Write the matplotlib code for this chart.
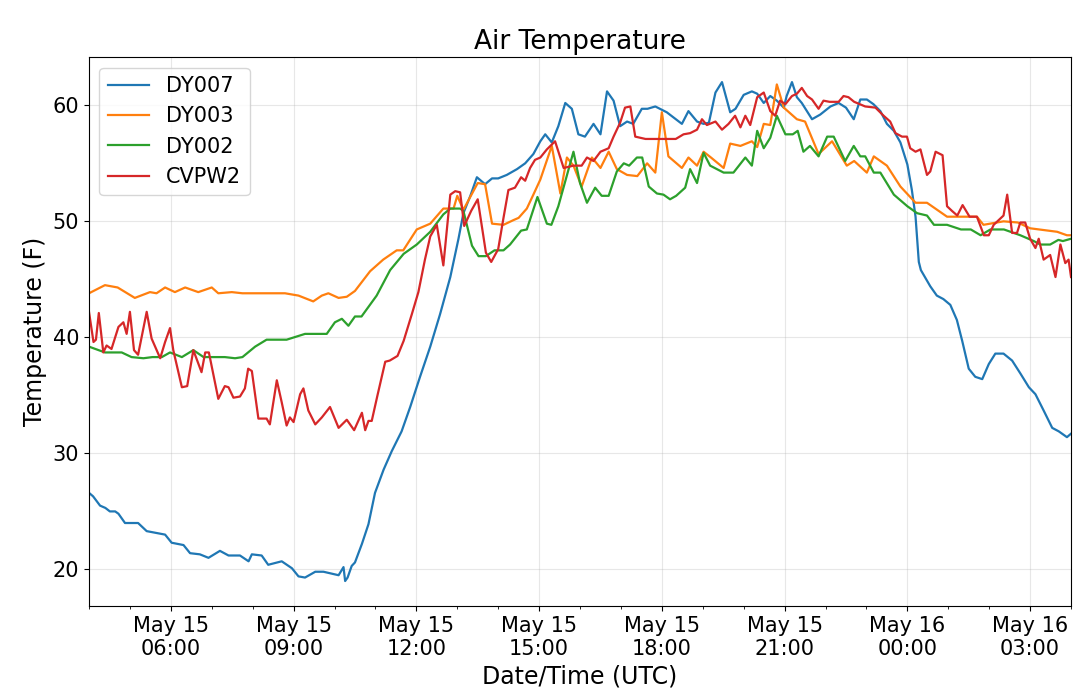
import numpy as np
import pandas as pd
import matplotlib
matplotlib.use('Agg')
import matplotlib.pyplot as plt
import matplotlib.dates as mdates

start = pd.Timestamp('2019-05-15 04:00')

# hours after 04:00 UTC and temperatures (F)
dy007_h = [0.0, 0.1, 0.27, 0.4, 0.51, 0.64, 0.72, 0.88, 1.2, 1.41, 1.86, 2.02, 2.31, 2.47, 2.71, 2.92,
           3.2, 3.41, 3.69, 3.9, 3.98, 4.22, 4.38, 4.71, 4.96, 5.12, 5.28, 5.53, 5.73, 6.1, 6.22, 6.26,
           6.32, 6.42, 6.5, 6.67, 6.83, 6.99, 7.2, 7.4, 7.64, 7.85, 8.09, 8.34, 8.58, 8.83, 9.03, 9.15,
           9.32, 9.48, 9.68, 9.85, 10.0, 10.21, 10.46, 10.66, 10.86, 11.03, 11.15, 11.31, 11.47, 11.64,
           11.8, 11.96, 12.12, 12.33, 12.5, 12.66, 12.82, 12.98, 13.15, 13.3, 13.51, 13.65, 13.84, 14.12,
           14.49, 14.65, 14.86, 15.02, 15.15, 15.31, 15.47, 15.67, 15.8, 16.0, 16.2, 16.33, 16.49, 16.65,
           16.81, 16.98, 17.05, 17.18, 17.3, 17.42, 17.67, 17.87, 18.12, 18.32, 18.5, 18.69, 18.85, 19.01,
           19.17, 19.34, 19.5, 19.67, 19.83, 20.0, 20.11, 20.2, 20.28, 20.33, 20.56, 20.72, 20.88, 21.05,
           21.21, 21.34, 21.5, 21.66, 21.83, 21.99, 22.15, 22.35, 22.56, 22.76, 22.97, 23.13, 23.33, 23.54,
           23.7, 23.9, 24.0]
dy007_t = [26.6, 26.3, 25.5, 25.3, 25.0, 25.0, 24.8, 24.0, 24.0, 23.3, 23.0, 22.3, 22.1, 21.4, 21.3, 21.0,
           21.6, 21.2, 21.2, 20.7, 21.3, 21.2, 20.4, 20.7, 20.1, 19.4, 19.3, 19.8, 19.8, 19.5, 20.2, 19.0,
           19.3, 20.3, 20.6, 22.2, 23.9, 26.6, 28.6, 30.2, 31.9, 34.0, 36.6, 39.2, 42.0, 45.2, 48.5, 50.7,
           52.2, 53.8, 53.2, 53.7, 53.7, 54.0, 54.5, 55.0, 55.8, 56.9, 57.5, 56.8, 58.2, 60.2,
           59.7, 57.5, 57.3, 58.4, 57.5, 61.2, 60.4, 58.2, 58.6, 58.4, 59.7, 59.7, 59.9, 59.4,
           58.4, 59.5, 58.6, 58.4, 58.5, 61.1, 62.0, 59.4, 59.7, 60.9, 61.2, 61.0, 60.2, 60.8,
           60.4, 59.8, 60.8, 62.0, 60.7, 60.2, 58.8, 59.2, 59.9, 60.2, 59.8, 58.8, 60.5, 60.5,
           60.1, 59.5, 58.4, 57.8, 56.8, 54.9, 52.7, 50.4, 46.5, 45.8, 44.4, 43.6, 43.3, 42.8,
           41.5, 39.7, 37.3, 36.6, 36.4, 37.7, 38.6, 38.6, 38.0, 36.9, 35.7, 35.1, 33.7, 32.2,
           31.9, 31.4, 31.7]

dy003_h = [0.0, 0.39, 0.7, 1.12, 1.49, 1.65, 1.86, 2.1, 2.35, 2.67, 3.0, 3.16, 3.49, 3.75, 4.79, 5.12,
           5.48, 5.69, 5.85, 6.1, 6.3, 6.5, 6.87, 7.19, 7.52, 7.68, 8.01, 8.34, 8.66, 8.91, 9.0, 9.15,
           9.5, 9.68, 9.85, 10.13, 10.37, 10.5, 10.7, 10.86, 11.03, 11.31, 11.52, 11.68, 11.84, 12.04,
           12.29, 12.5, 12.7, 12.9, 13.15, 13.4, 13.64, 13.84, 14.0, 14.16, 14.49, 14.65, 14.86, 15.02,
           15.2, 15.51, 15.67, 15.92, 16.2, 16.33, 16.49, 16.65, 16.81, 16.98, 17.3, 17.5, 17.83, 18.16,
           18.52, 18.7, 19.01, 19.18, 19.5, 19.83, 20.2, 20.48, 20.97, 21.7, 21.86, 22.35, 22.7, 23.0,
           23.66, 23.9, 24.0]
dy003_t = [43.8, 44.5, 44.3, 43.4, 43.9, 43.8, 44.3, 43.9, 44.3, 43.9, 44.3, 43.8, 43.9, 43.8, 43.8, 43.6,
           43.1, 43.6, 43.8, 43.4, 43.5, 44.0, 45.7, 46.7, 47.5, 47.5, 49.3, 49.8, 51.1, 51.1, 52.2, 51.0,
           53.3, 53.2, 49.8, 49.7, 50.1, 50.3, 51.1, 52.3, 53.6, 56.5, 52.4, 55.5, 54.8, 53.0,
           55.5, 54.6, 56.0, 54.5, 54.0, 53.9, 55.0, 54.2, 59.4, 55.6, 54.6, 55.5, 54.8, 56.0,
           55.5, 54.6, 56.7, 56.5, 56.9, 56.4, 58.4, 58.3, 61.8, 59.8, 58.8, 58.6, 55.8, 56.9,
           54.8, 55.2, 54.2, 55.6, 54.8, 53.0, 51.6, 51.6, 50.4, 50.4, 49.7, 50.0, 49.9, 49.4,
           49.1, 48.8, 48.8]

dy002_h = [0.0, 0.39, 0.8, 1.04, 1.33, 1.55, 1.78, 1.98, 2.27, 2.55, 2.8, 3.32, 3.57, 3.75, 4.06, 4.34,
           4.83, 5.28, 5.81, 6.01, 6.18, 6.34, 6.5, 6.66, 7.03, 7.36, 7.69, 8.01, 8.34, 8.66, 8.83, 9.07,
           9.15, 9.36, 9.52, 9.7, 9.91, 10.13, 10.29, 10.56, 10.7, 10.96, 11.19, 11.3, 11.47, 11.84, 12.0,
           12.17, 12.37, 12.53, 12.7, 12.9, 13.07, 13.2, 13.39, 13.52, 13.68, 13.88, 14.04, 14.2, 14.35,
           14.57, 14.69, 14.86, 15.02, 15.18, 15.51, 15.75, 16.04, 16.2, 16.33, 16.49, 16.65, 16.81,
           17.02, 17.2, 17.32, 17.46, 17.62, 17.83, 18.04, 18.2, 18.48, 18.69, 18.85, 18.97, 19.18,
           19.34, 19.67, 20.0, 20.24, 20.48, 20.65, 20.97, 21.31, 21.55, 21.79, 22.03, 22.36, 22.76,
           23.09, 23.25, 23.49, 23.69, 23.8, 24.0]
dy002_t = [39.2, 38.7, 38.7, 38.3, 38.2, 38.3, 38.3, 38.7, 38.3, 38.9, 38.3, 38.3, 38.2, 38.3, 39.2, 39.8,
           39.8, 40.3, 40.3, 41.3, 41.6, 41.0, 41.8, 41.8, 43.6, 45.8, 47.2, 48.0, 49.1, 50.6, 51.1, 51.1,
           50.9, 47.9, 47.0, 47.0, 47.5, 47.5, 48.0, 49.2, 49.3, 52.1, 49.8, 49.7, 51.3, 56.0, 53.3,
           51.6, 52.9, 52.2, 52.2, 54.3, 55.0, 54.8, 55.5, 55.5, 53.0, 52.4, 52.3, 51.9, 52.2,
           52.9, 54.5, 53.3, 55.9, 54.8, 54.2, 54.2, 55.5, 54.8, 57.8, 56.3, 57.2, 59.1,
           57.5, 57.5, 57.8, 56.0, 56.5, 55.6, 57.3, 57.3, 55.2, 56.5, 55.6, 55.6, 54.2,
           54.2, 52.3, 51.3, 50.7, 50.5, 49.7, 49.7, 49.3, 49.3, 48.8, 49.3, 49.3, 48.8,
           48.3, 48.0, 48.0, 48.4, 48.3, 48.5]

cvpw2_h = [0.0, 0.11, 0.17, 0.24, 0.35, 0.43, 0.55, 0.72, 0.84, 0.92, 1.0, 1.1, 1.2, 1.41, 1.53, 1.74,
           1.86, 1.98, 2.06, 2.27, 2.4, 2.55, 2.75, 2.84, 2.93, 3.16, 3.32, 3.41, 3.53, 3.69, 3.81, 3.89,
           3.98, 4.14, 4.34, 4.42, 4.59, 4.71, 4.83, 4.91, 5.0, 5.16, 5.24, 5.36, 5.53, 5.69, 5.89, 6.1,
           6.3, 6.48, 6.67, 6.75, 6.83, 6.91, 7.05, 7.24, 7.35, 7.54, 7.69, 7.89, 8.05, 8.21, 8.34, 8.5,
           8.66, 8.83, 8.95, 9.07, 9.17, 9.34, 9.5, 9.7, 9.83, 10.0, 10.13, 10.25, 10.41, 10.56, 10.66,
           10.78, 10.9, 11.03, 11.19, 11.39, 11.6, 11.84, 12.04, 12.17, 12.33, 12.5, 12.7, 12.82, 12.98,
           13.1, 13.23, 13.35, 13.6, 13.93, 14.34, 14.53, 14.69, 14.86, 14.98, 15.1, 15.31, 15.47, 15.63,
           15.79, 15.92, 16.04, 16.16, 16.33, 16.49, 16.65, 16.77, 16.89, 17.02, 17.18, 17.3, 17.42,
           17.55, 17.67, 17.83, 17.95, 18.1, 18.32, 18.44, 18.56, 18.7, 18.97, 19.22, 19.42, 19.58,
           19.71, 19.87, 19.99, 20.07, 20.2, 20.32, 20.48, 20.56, 20.69, 20.86, 20.97, 21.09, 21.22,
           21.35, 21.52, 21.7, 21.87, 21.99, 22.11, 22.23, 22.35, 22.44, 22.56, 22.68, 22.76, 22.88,
           23.0, 23.13, 23.21, 23.33, 23.49, 23.62, 23.74, 23.86, 23.94, 24.0]
cvpw2_t = [42.2, 39.6, 39.8, 42.1, 38.7, 39.3, 39.0, 40.9, 41.3, 40.3, 42.2, 38.9, 38.5, 42.2, 39.9, 38.2,
           39.6, 40.8, 38.9, 35.7, 35.8, 38.9, 37.0, 38.7, 38.7, 34.7, 35.8, 35.7, 34.8, 34.9, 35.6, 37.3,
           37.1, 33.0, 33.0, 32.5, 36.3, 34.4, 32.4, 33.1, 32.7, 35.1, 35.6, 33.7, 32.5, 33.1, 34.0, 32.2,
           32.9, 32.0, 33.5, 32.0, 32.8, 32.8, 35.0, 37.9, 38.0, 38.4, 39.7, 42.0, 43.9, 46.7, 48.7, 49.7,
           46.2, 52.3, 52.6, 52.5, 49.6, 50.9, 51.9, 47.3, 46.5, 47.6, 50.3, 52.7, 52.9, 53.8, 53.5,
           54.6, 55.3, 55.5, 56.2, 56.9, 54.6, 54.8, 54.8, 55.5, 55.2, 56.0, 56.3, 57.3, 58.5,
           59.8, 59.9, 57.3, 57.1, 57.1, 57.1, 57.5, 57.6, 57.9, 58.8, 58.3, 58.6, 57.9, 58.4,
           59.1, 58.1, 59.1, 58.3, 60.7, 61.1, 59.5, 59.1, 60.4, 60.1, 60.8, 61.0, 61.5,
           60.8, 60.5, 59.7, 60.4, 60.3, 60.3, 60.8, 60.7, 60.3, 59.9, 59.8, 59.1, 58.6,
           57.6, 57.3, 57.3, 56.3, 56.0, 56.2, 54.0, 54.3, 56.0, 55.7, 51.3, 50.9, 50.5,
           51.4, 50.4, 50.4, 48.8, 48.8, 49.7, 50.1, 50.5, 52.3, 49.0, 49.0, 49.9, 49.9,
           48.5, 47.7, 48.5, 46.7, 47.1, 45.2, 48.0, 46.4, 46.7, 45.2]

stations = ['DY007', 'DY003', 'DY002', 'CVPW2']
series = [(dy007_h, dy007_t), (dy003_h, dy003_t), (dy002_h, dy002_t), (cvpw2_h, cvpw2_t)]

fig, ax = plt.subplots(figsize=(10.8, 6.97), dpi=100)
fig.subplots_adjust(left=0.0824, right=0.9917, top=0.918, bottom=0.1306)

for name, (hrs, temps) in zip(stations, series):
    times = start + pd.to_timedelta(hrs, unit='h')
    ax.plot(times, temps, label=name, linewidth=1.6)

ax.set_xlim(start, start + pd.Timedelta(hours=24))
ax.xaxis.set_major_locator(mdates.HourLocator(byhour=[0, 3, 6, 9, 12, 15, 18, 21]))
ax.xaxis.set_minor_locator(mdates.HourLocator())
ax.xaxis.set_major_formatter(mdates.DateFormatter('%b %d\n%H:%M'))
ax.tick_params(axis='both', which='major', labelsize=15)
ax.grid(True, alpha=0.3)

ax.set_title('Air Temperature', fontsize=19)
ax.set_xlabel('Date/Time (UTC)', fontsize=17)
ax.set_ylabel('Temperature (F)', fontsize=17)
ax.legend(loc='upper left', fontsize=15)

plt.savefig('out.png')
plt.close()
